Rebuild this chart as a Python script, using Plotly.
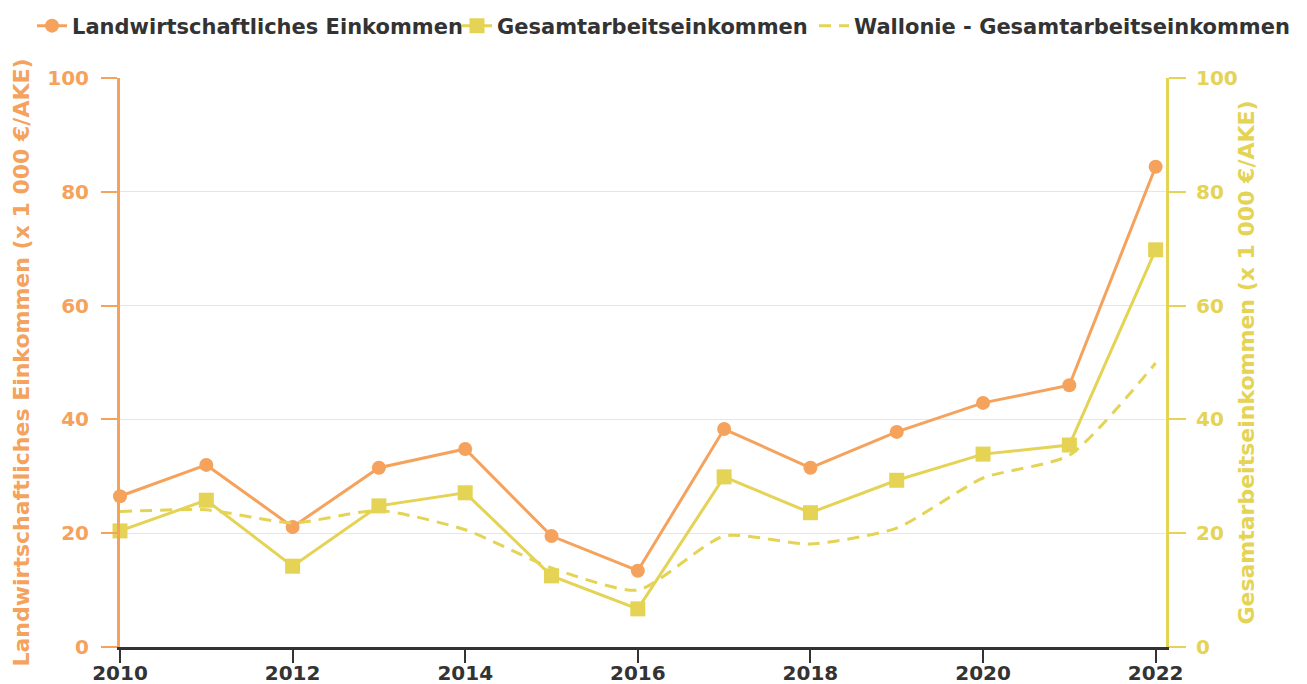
import plotly.graph_objects as go

years = list(range(2010, 2023))
landw = [26.5, 32.0, 21.1, 31.5, 34.8, 19.5, 13.4, 38.3, 31.5, 37.8, 42.9, 46.0, 84.4]
gesamt = [20.4, 25.8, 14.2, 24.8, 27.1, 12.5, 6.7, 29.9, 23.6, 29.3, 33.9, 35.5, 69.8]
wallonie = [23.8, 24.1, 21.8, 24.0, 20.6, 13.9, 10.0, 19.5, 18.1, 20.9, 29.7, 33.7, 49.9]

name1 = "Landwirtschaftliches Einkommen"
name2 = "Gesamtarbeitseinkommen"
name3 = "Wallonie - Gesamtarbeitseinkommen"
ytitle1 = "Landwirtschaftliches Einkommen (x 1 000 €/AKE)"
ytitle2 = "Gesamtarbeitseinkommen (x 1 000 €/AKE)"

ORANGE = "#F5A25D"
YELLOW = "#E4D354"
FONT = "DejaVu Sans"

W, H = 1299, 676  # page body has an 8px margin

fig = go.Figure()
fig.add_trace(go.Scatter(
    x=years, y=wallonie, name=name3, mode="lines", yaxis="y2",
    line=dict(color=YELLOW, width=3, dash="12px,8px", shape="spline", smoothing=0.6),
    legend="legend3", cliponaxis=False))
fig.add_trace(go.Scatter(
    x=years, y=gesamt, name=name2, mode="lines+markers", yaxis="y2",
    line=dict(color=YELLOW, width=3),
    marker=dict(symbol="square", size=15, color=YELLOW),
    legend="legend2", cliponaxis=False))
fig.add_trace(go.Scatter(
    x=years, y=landw, name=name1, mode="lines+markers",
    line=dict(color=ORANGE, width=3),
    marker=dict(symbol="circle", size=14, color=ORANGE),
    legend="legend", cliponaxis=False))

legfont = dict(family=FONT, size=21, color="#333333", weight="bold")
def leg(xpx):
    return dict(orientation="h", xref="container", yref="container",
                x=xpx / W, y=1 - 18 / H, xanchor="left", yanchor="middle",
                font=legfont, bgcolor="rgba(0,0,0,0)", borderwidth=0)

tickf = 20
titlef = 22
fig.update_layout(
    width=W, height=H,
    margin=dict(l=112, r=141, t=70, b=37),
    plot_bgcolor="white", paper_bgcolor="white",
    showlegend=True,
    legend=leg(24), legend2=leg(449), legend3=leg(806),
    xaxis=dict(range=[2010, 2022.12], dtick=2, tick0=2010, showgrid=False,
               showline=True, linecolor="#333333", linewidth=3,
               ticks="outside", ticklen=13, tickwidth=2, tickcolor="#333333",
               ticklabelstandoff=-7,
               tickfont=dict(family=FONT, size=tickf, color="#333333", weight="bold"),
               zeroline=False, automargin=False),
    yaxis=dict(range=[0, 100], dtick=20, showgrid=True, gridcolor="#e6e6e6", gridwidth=1,
               showline=True, linecolor=ORANGE, linewidth=3,
               ticks="outside", ticklen=16, tickwidth=2, tickcolor=ORANGE,
               ticklabelstandoff=8,
               tickfont=dict(family=FONT, size=tickf, color=ORANGE, weight="bold"),
               title=dict(text=ytitle1, font=dict(family=FONT, size=titlef, color=ORANGE, weight="bold"), standoff=12),
               zeroline=False, automargin=False),
    yaxis2=dict(range=[0, 100], dtick=20, overlaying="y", side="right", showgrid=False,
                showline=True, linecolor=YELLOW, linewidth=3,
                ticks="outside", ticklen=17, tickwidth=2, tickcolor=YELLOW,
                ticklabelstandoff=6,
                tickfont=dict(family=FONT, size=tickf, color=YELLOW, weight="bold"),
                title=dict(text=ytitle2, font=dict(family=FONT, size=titlef, color=YELLOW, weight="bold"), standoff=2),
                zeroline=False, automargin=False),
)

fig.write_html("out.html")
